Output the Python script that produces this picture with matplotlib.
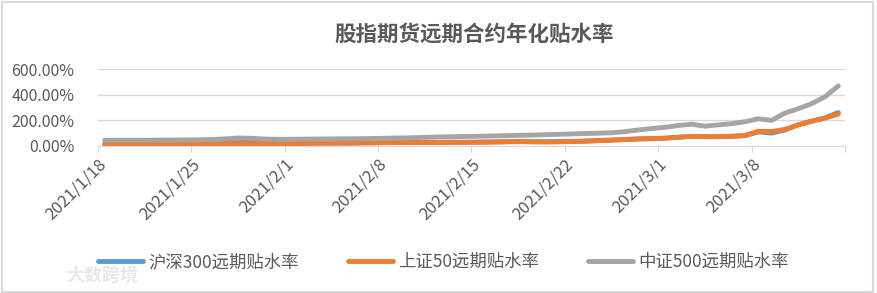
import numpy as np
import matplotlib.pyplot as plt
import matplotlib.dates as mdates
from matplotlib.patches import Rectangle
from matplotlib.ticker import FuncFormatter, MultipleLocator

plt.rcParams['font.family'] = ['Noto Sans CJK SC', 'DejaVu Sans']

# daily annualized discount (%), 2021-01-18 .. 2021-03-14
start = np.datetime64('2021-01-18')
days = start + np.arange(56)

hs300 = [16, 16, 16, 17, 18, 20, 22,
         24, 26, 30, 35, 30, 26, 24,
         22, 22, 22, 23, 23, 24, 25,
         26, 27, 27, 28, 28, 29, 29,
         30, 31, 32, 33, 33, 33, 34,
         35, 38, 42, 46, 51, 55, 58,
         61, 68, 75, 72, 72, 75, 80,
         110, 100, 125, 165, 194, 220, 262]

sz50 = [14, 14, 13, 13, 14, 14, 15,
        15, 16, 16, 18, 17, 16, 17,
        18, 19, 20, 21, 22, 23, 24,
        25, 26, 26, 27, 27, 28, 28,
        29, 30, 33, 36, 32, 31, 32,
        34, 37, 41, 45, 50, 54, 57,
        60, 68, 75, 73, 73, 76, 82,
        115, 113, 130, 166, 194, 218, 250]

zz500 = [45, 45, 45, 45, 46, 46, 47,
         48, 50, 55, 62, 60, 54, 52,
         52, 53, 54, 55, 56, 57, 58,
         60, 62, 64, 67, 70, 72, 74,
         76, 78, 80, 83, 85, 88, 91,
         94, 97, 100, 103, 112, 125, 136,
         146, 160, 170, 155, 165, 174, 190,
         213, 200, 258, 292, 332, 385, 471]

names = ['沪深300远期贴水率', '上证50远期贴水率', '中证500远期贴水率']
colors = ['#5B9BD5', '#ED7D31', '#A5A5A5']
text_color = '#595959'
grid_color = '#D9D9D9'

fig = plt.figure(figsize=(8.78, 2.93), dpi=100)
ax = fig.add_axes([0.1116, 0.502, 0.8508, 0.261])

x = mdates.date2num(days.astype('datetime64[D]').astype(object)) + 0.5
for vals, name, c in zip([hs300, sz50, zz500], names, colors):
    ax.plot(x, vals, color=c, lw=3.5, label=name, solid_capstyle='round')

ax.set_xlim(mdates.date2num(start.astype(object)),
            mdates.date2num(np.datetime64('2021-03-15').astype(object)))
ax.set_ylim(0, 600)

ax.yaxis.set_major_locator(MultipleLocator(200))
ax.yaxis.set_major_formatter(FuncFormatter(lambda v, p: f'{v:.2f}%'))
ticks = start + np.arange(0, 57, 7)
ax.set_xticks(mdates.date2num(ticks.astype(object)))
ax.xaxis.set_major_formatter(FuncFormatter(
    lambda v, p: (lambda d: f'{d.year}/{d.month}/{d.day}')(mdates.num2date(v))))

ax.grid(axis='y', color=grid_color, lw=1)
ax.set_axisbelow(True)
for s in ['top', 'right', 'left']:
    ax.spines[s].set_visible(False)
ax.spines['bottom'].set_color(grid_color)
ax.tick_params(axis='y', length=0, labelsize=11.5, labelcolor=text_color, pad=17)
ax.tick_params(axis='x', length=4, color=grid_color, labelsize=12,
               labelcolor=text_color, pad=3)
# last tick (3/15) has a mark but no label
labels = ax.get_xticklabels()
for lab in labels:
    lab.set_rotation(45)
    lab.set_ha('right')
    lab.set_rotation_mode('anchor')
labels[-1].set_visible(False)

fig.text(0.54, 0.885, '股指期货远期合约年化贴水率', ha='center', va='center',
         fontsize=15.5, fontweight='bold', color=text_color)

fig.legend(loc='center', bbox_to_anchor=(0.505, 0.106), ncol=3, frameon=False,
           fontsize=12.5, labelcolor=text_color, handlelength=2.6,
           handletextpad=0.3, columnspacing=2.8)

# watermark
fig.text(0.075, 0.06, '大数跨境', ha='left', va='center', fontsize=13,
         color='#E8E8E8', fontweight='bold')

fig.patches.append(Rectangle((0.002, 0.004), 0.992, 0.99, transform=fig.transFigure,
                             fill=False, edgecolor=grid_color, lw=1.5))

fig.savefig('out.png', dpi=100)
